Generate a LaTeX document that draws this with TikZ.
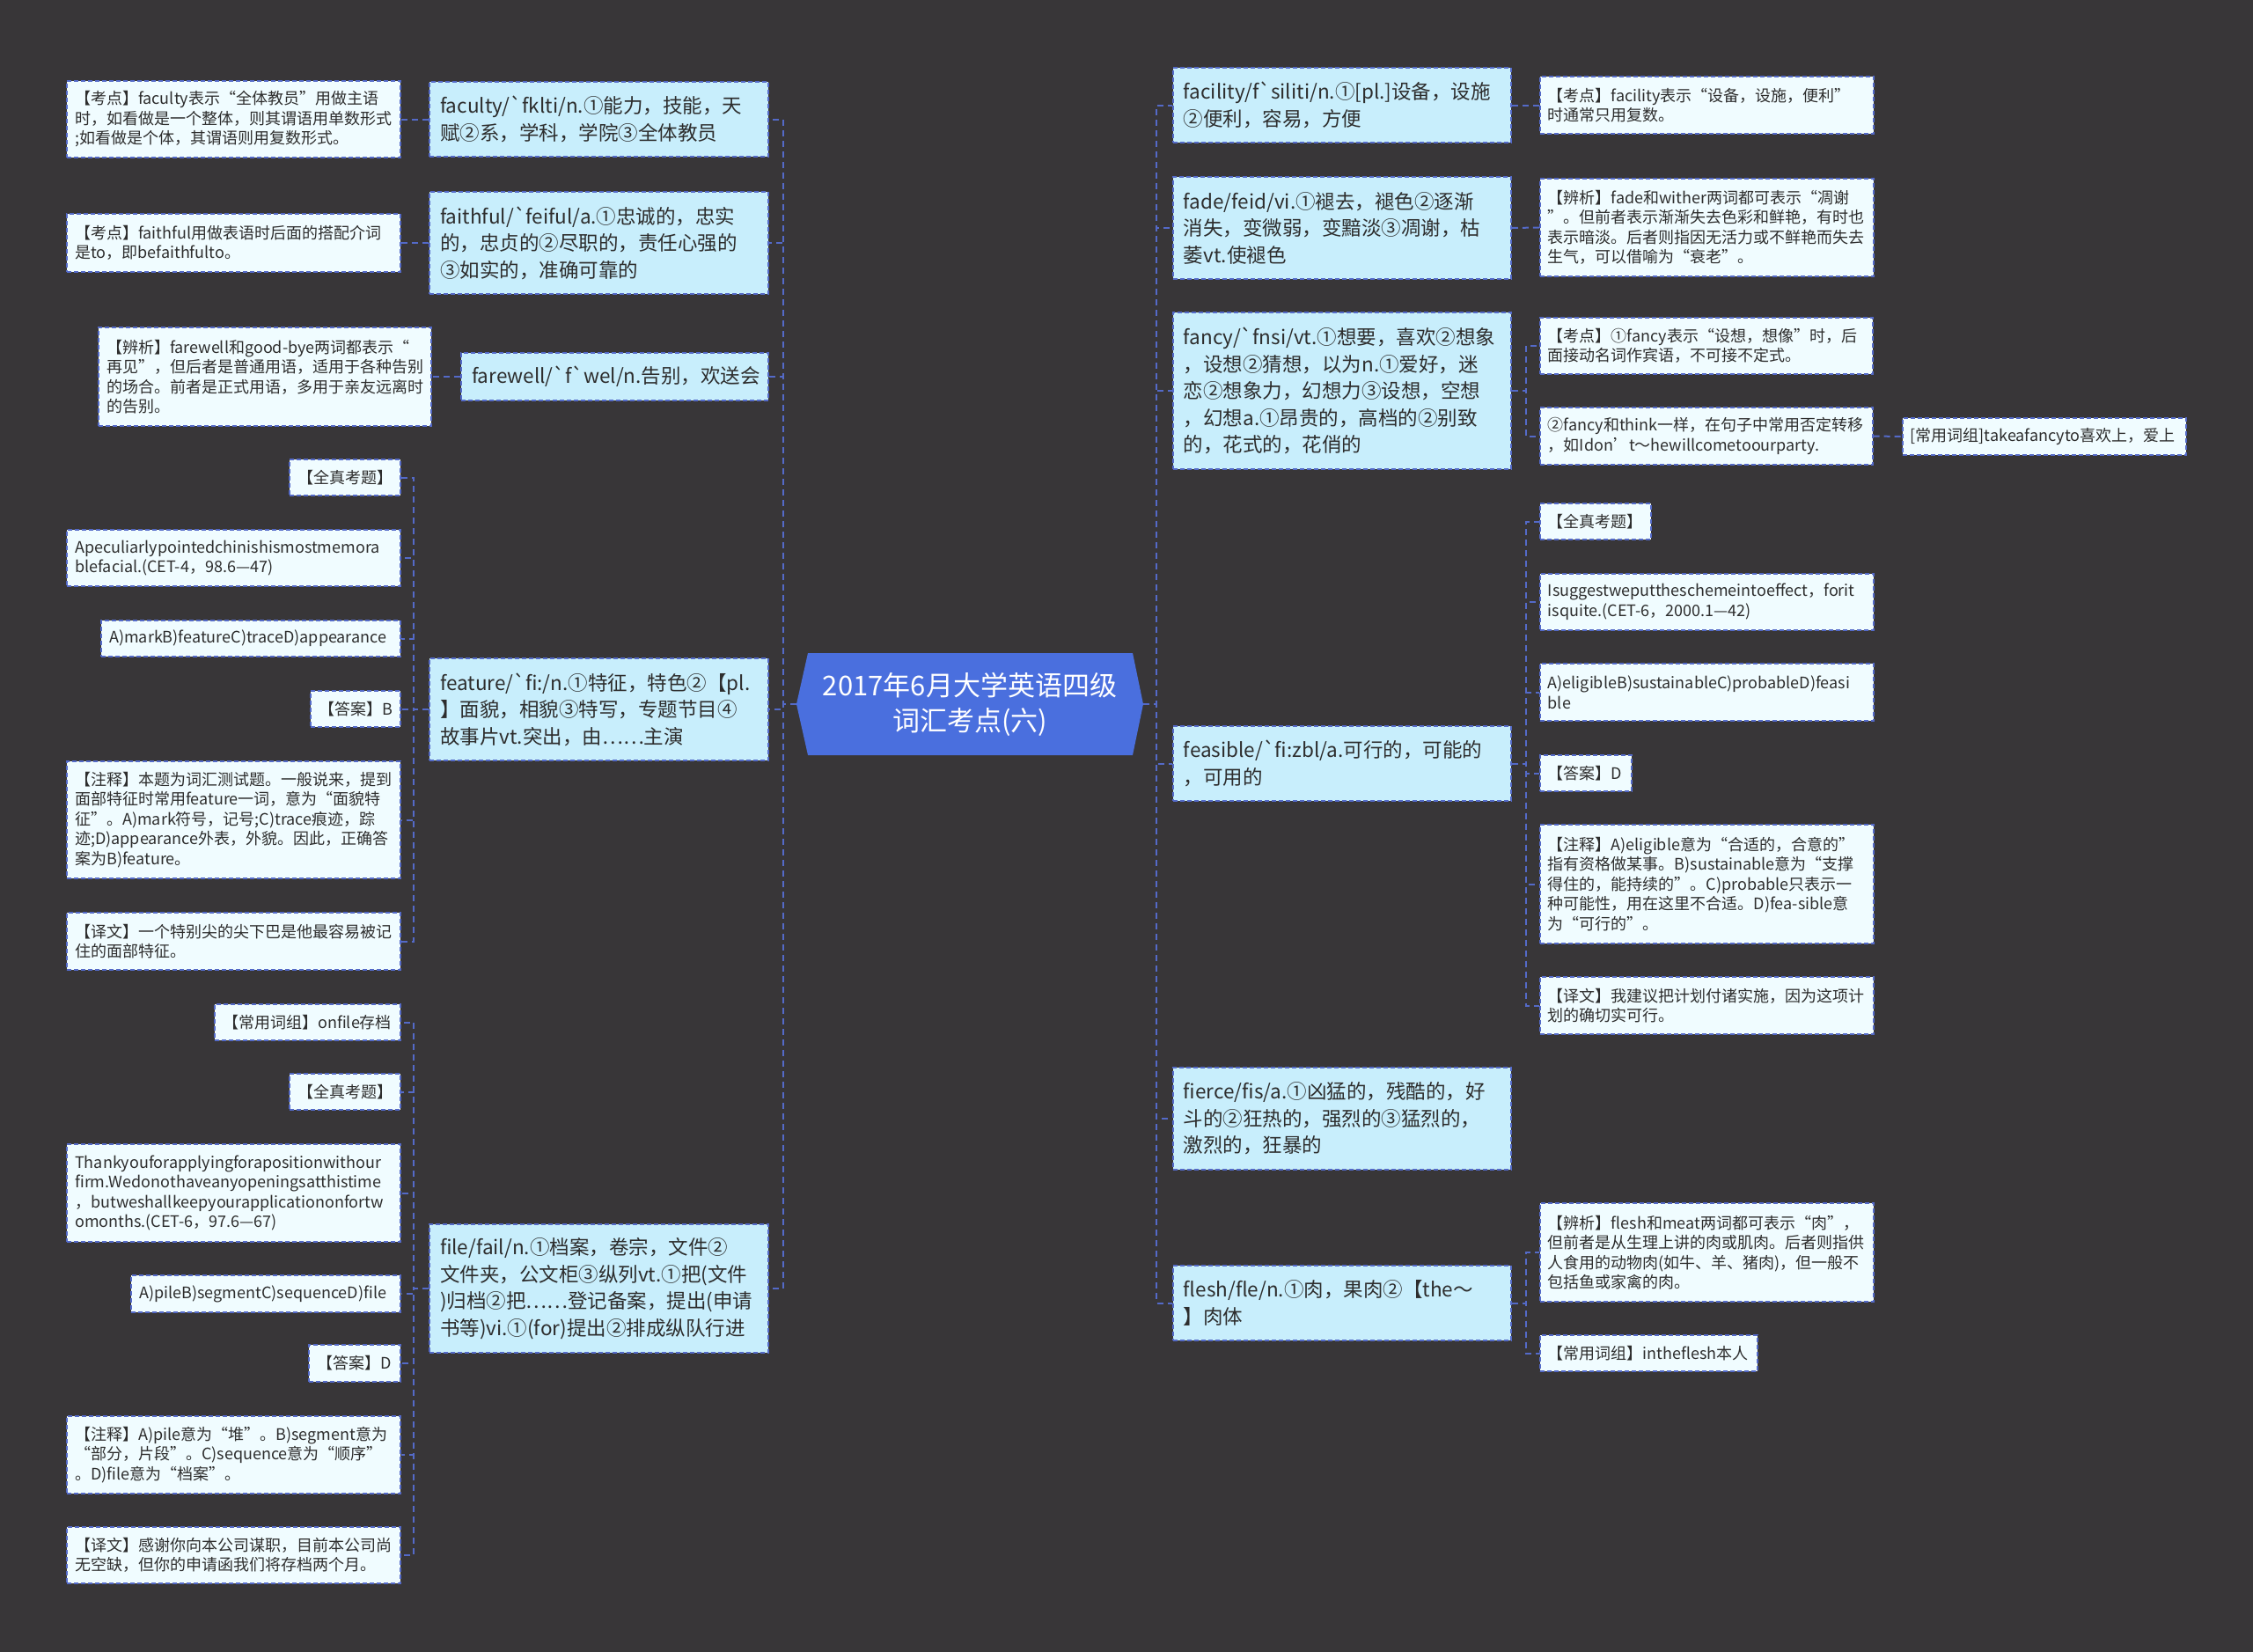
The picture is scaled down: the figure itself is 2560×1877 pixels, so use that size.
\documentclass[tikz,border=0pt]{standalone}
\usepackage{fontspec}
\setmainfont{Noto Sans CJK SC}[Ligatures=TeXOff]
\definecolor{bg}{RGB}{56,54,56}
\definecolor{linec}{RGB}{84,106,200}
\definecolor{mainfill}{RGB}{200,238,252}
\definecolor{leaffill}{RGB}{240,252,255}
\definecolor{ctrfill}{RGB}{74,111,222}
\definecolor{txt}{RGB}{45,45,45}
\begin{document}
\begin{tikzpicture}[x=1pt,y=-1pt,
  mainbox/.style={draw=linec,line width=1.8pt,dash pattern=on 5pt off 3pt,fill=mainfill,text=txt,
    align=left,inner xsep=12pt,inner ysep=4pt,font={\fontsize{22.5}{30.5}\selectfont}},
  leafbox/.style={draw=linec,line width=1.6pt,dash pattern=on 5pt off 3pt,fill=leaffill,text=txt,
    align=left,inner xsep=9pt,inner ysep=3pt,font={\fontsize{18}{22.5}\selectfont}},
  conn/.style={draw=linec,line width=2pt,dash pattern=on 7pt off 5pt}]
\fill[bg] (0,0) rectangle (2560,1877);
\useasboundingbox (0,0) rectangle (2560,1877);

% centre
\fill[ctrfill] (918,742) -- (1287,742) -- (1299,800) -- (1287,858) -- (918,858) -- (905,800) -- cycle;
\node[minimum width=394pt,minimum height=116pt,inner sep=0pt,text=white,align=center,
  font={\fontsize{31}{40}\selectfont}] (c) at (1102,800) {2017年6月大学英语四级\\词汇考点(六)};

% left main nodes
\node[mainbox,anchor=east,text width=361pt,minimum height=85pt] (faculty) at (874,135.5)
  {faculty/`fklti/n.①能力，技能，天\\赋②系，学科，学院③全体教员};
\node[mainbox,anchor=east,text width=361pt,minimum height=116pt] (faithful) at (874,276)
  {faithful/`feiful/a.①忠诚的，忠实\\的，忠贞的②尽职的，责任心强的\\③如实的，准确可靠的};
\node[mainbox,anchor=east,text width=325pt,minimum height=54pt] (farewell) at (874,428)
  {farewell/`f`wel/n.告别，欢送会};
\node[mainbox,anchor=east,text width=361pt,minimum height=116pt] (feature) at (874,806)
  {feature/`fi:/n.①特征，特色②【pl.\\】面貌，相貌③特写，专题节目④\\故事片vt.突出，由……主演};
\node[mainbox,anchor=east,text width=361pt,minimum height=146pt] (file) at (874,1464)
  {file/fail/n.①档案，卷宗，文件②\\文件夹，公文柜③纵列vt.①把(文件\\)归档②把……登记备案，提出(申请\\书等)vi.①(for)提出②排成纵队行进};

% right main nodes
\node[mainbox,anchor=west,text width=360pt,minimum height=85pt] (facility) at (1332,119.5)
  {facility/f`siliti/n.①[pl.]设备，设施\\②便利，容易，方便};
\node[mainbox,anchor=west,text width=360pt,minimum height=116pt] (fade) at (1332,259)
  {fade/feid/vi.①褪去，褪色②逐渐\\消失，变微弱，变黯淡③凋谢，枯\\萎vt.使褪色};
\node[mainbox,anchor=west,text width=360pt,minimum height=178pt] (fancy) at (1332,444)
  {fancy/`fnsi/vt.①想要，喜欢②想象\\，设想②猜想，以为n.①爱好，迷\\恋②想象力，幻想力③设想，空想\\，幻想a.①昂贵的，高档的②别致\\的，花式的，花俏的};
\node[mainbox,anchor=west,text width=360pt,minimum height=85pt] (feasible) at (1332,867.5)
  {feasible/`fi:zbl/a.可行的，可能的\\，可用的};
\node[mainbox,anchor=west,text width=360pt,minimum height=116pt] (fierce) at (1332,1271)
  {fierce/fis/a.①凶猛的，残酷的，好\\斗的②狂热的，强烈的③猛烈的，\\激烈的，狂暴的};
\node[mainbox,anchor=west,text width=360pt,minimum height=85pt] (flesh) at (1332,1480.5)
  {flesh/fle/n.①肉，果肉②【the～\\】肉体};

% left leaves
\node[leafbox,anchor=east,text width=361pt,minimum height=87pt] (facultyL) at (456,135.5)
  {【考点】faculty表示“全体教员”用做主语\\时，如看做是一个整体，则其谓语用单数形式\\;如看做是个体，其谓语则用复数形式。};
\node[leafbox,anchor=east,text width=361pt,minimum height=66pt] (faithfulL) at (456,276)
  {【考点】faithful用做表语时后面的搭配介词\\是to，即befaithfulto。};
\node[leafbox,anchor=east,text width=360pt,minimum height=112pt] (farewellL) at (491,428)
  {【辨析】farewell和good-bye两词都表示“\\再见”，但后者是普通用语，适用于各种告别\\的场合。前者是正式用语，多用于亲友远离时\\的告别。};

\node[leafbox,anchor=east,text width=108pt,minimum height=41pt] (fe1) at (456,542.5) {【全真考题】};
\node[leafbox,anchor=east,text width=361pt,minimum height=64pt] (fe2) at (456,634)
  {Apeculiarlypointedchinishismostmemora\\blefacial.(CET-4，98.6—47)};
\node[leafbox,anchor=east,text width=322pt,minimum height=41pt] (fe3) at (456,725.5)
  {A)markB)featureC)traceD)appearance};
\node[leafbox,anchor=east,text width=84pt,minimum height=41pt] (fe4) at (456,805.5) {【答案】B};
\node[leafbox,anchor=east,text width=361pt,minimum height=133pt] (fe5) at (456,931.5)
  {【注释】本题为词汇测试题。一般说来，提到\\面部特征时常用feature一词，意为“面貌特\\征”。A)mark符号，记号;C)trace痕迹，踪\\迹;D)appearance外表，外貌。因此，正确答\\案为B)feature。};
\node[leafbox,anchor=east,text width=361pt,minimum height=65pt] (fe6) at (456,1069.5)
  {【译文】一个特别尖的尖下巴是他最容易被记\\住的面部特征。};

\node[leafbox,anchor=east,text width=193pt,minimum height=41pt] (fi1) at (456,1161.5) {【常用词组】onfile存档};
\node[leafbox,anchor=east,text width=108pt,minimum height=41pt] (fi2) at (456,1240.5) {【全真考题】};
\node[leafbox,anchor=east,text width=361pt,minimum height=111pt] (fi3) at (456,1355.5)
  {Thankyouforapplyingforapositionwithour\\firm.Wedonothaveanyopeningsatthistime\\，butweshallkeepyourapplicationonfortw\\omonths.(CET-6，97.6—67)};
\node[leafbox,anchor=east,text width=288pt,minimum height=42pt] (fi4) at (456,1470)
  {A)pileB)segmentC)sequenceD)file};
\node[leafbox,anchor=east,text width=86pt,minimum height=42pt] (fi5) at (456,1549) {【答案】D};
\node[leafbox,anchor=east,text width=361pt,minimum height=88pt] (fi6) at (456,1653)
  {【注释】A)pile意为“堆”。B)segment意为\\“部分，片段”。C)sequence意为“顺序”\\。D)file意为“档案”。};
\node[leafbox,anchor=east,text width=361pt,minimum height=64pt] (fi7) at (456,1767)
  {【译文】感谢你向本公司谋职，目前本公司尚\\无空缺，但你的申请函我们将存档两个月。};

% right leaves
\node[leafbox,anchor=west,text width=361pt,minimum height=65pt] (facilityL) at (1749,119.5)
  {【考点】facility表示“设备，设施，便利”\\时通常只用复数。};
\node[leafbox,anchor=west,text width=361pt,minimum height=111pt] (fadeL) at (1749,258.5)
  {【辨析】fade和wither两词都可表示“凋谢\\”。但前者表示渐渐失去色彩和鲜艳，有时也\\表示暗淡。后者则指因无活力或不鲜艳而失去\\生气，可以借喻为“衰老”。};
\node[leafbox,anchor=west,text width=360pt,minimum height=64pt] (fa1) at (1749,393)
  {【考点】①fancy表示“设想，想像”时，后\\面接动名词作宾语，不可接不定式。};
\node[leafbox,anchor=west,text width=360pt,minimum height=65pt] (fa2) at (1749,495.5)
  {②fancy和think一样，在句子中常用否定转移\\，如Idon’t～hewillcometoourparty.};
\node[leafbox,anchor=west,text width=304pt,minimum height=42pt] (fa3) at (2161,496)
  {[常用词组]takeafancyto喜欢上，爱上};

\node[leafbox,anchor=west,text width=108pt,minimum height=41pt] (fs1) at (1749,592.5) {【全真考题】};
\node[leafbox,anchor=west,text width=361pt,minimum height=64pt] (fs2) at (1749,684)
  {Isuggestweputtheschemeintoeffect，forit\\isquite.(CET-6，2000.1—42)};
\node[leafbox,anchor=west,text width=361pt,minimum height=65pt] (fs3) at (1749,786.5)
  {A)eligibleB)sustainableC)probableD)feasi\\ble};
\node[leafbox,anchor=west,text width=86pt,minimum height=41pt] (fs4) at (1749,878.5) {【答案】D};
\node[leafbox,anchor=west,text width=361pt,minimum height=135pt] (fs5) at (1749,1004.5)
  {【注释】A)eligible意为“合适的，合意的”\\指有资格做某事。B)sustainable意为“支撑\\得住的，能持续的”。C)probable只表示一\\种可能性，用在这里不合适。D)fea-sible意\\为“可行的”。};
\node[leafbox,anchor=west,text width=361pt,minimum height=65pt] (fs6) at (1749,1142.5)
  {【译文】我建议把计划付诸实施，因为这项计\\划的确切实可行。};

\node[leafbox,anchor=west,text width=361pt,minimum height=112pt] (fl1) at (1749,1423)
  {【辨析】flesh和meat两词都可表示“肉”，\\但前者是从生理上讲的肉或肌肉。后者则指供\\人食用的动物肉(如牛、羊、猪肉)，但一般不\\包括鱼或家禽的肉。};
\node[leafbox,anchor=west,text width=229pt,minimum height=41pt] (fl2) at (1749,1537.5)
  {【常用词组】intheflesh本人};

% connectors: centre to main nodes
\foreach \n in {faculty,faithful,farewell,feature,file}
  \draw[conn] (c.west) -- ++(-15,0) |- (\n.east);
\foreach \n in {facility,fade,fancy,feasible,fierce,flesh}
  \draw[conn] (c.east) -- ++(15,0) |- (\n.west);

% left main to leaves
\draw[conn] (faculty.west) -- (facultyL.east);
\draw[conn] (faithful.west) -- (faithfulL.east);
\draw[conn] (farewell.west) -- (farewellL.east);
\foreach \n in {fe1,fe2,fe3,fe4,fe5,fe6}
  \draw[conn] (feature.west) -- ++(-17,0) |- (\n.east);
\foreach \n in {fi1,fi2,fi3,fi4,fi5,fi6,fi7}
  \draw[conn] (file.west) -- ++(-17,0) |- (\n.east);

% right main to leaves
\draw[conn] (facility.east) -- (facilityL.west);
\draw[conn] (fade.east) -- (fadeL.west);
\foreach \n in {fa1,fa2}
  \draw[conn] (fancy.east) -- ++(16,0) |- (\n.west);
\draw[conn] (fa2.east) -- (fa3.west);
\foreach \n in {fs1,fs2,fs3,fs4,fs5,fs6}
  \draw[conn] (feasible.east) -- ++(16,0) |- (\n.west);
\foreach \n in {fl1,fl2}
  \draw[conn] (flesh.east) -- ++(16,0) |- (\n.west);
\end{tikzpicture}
\end{document}
